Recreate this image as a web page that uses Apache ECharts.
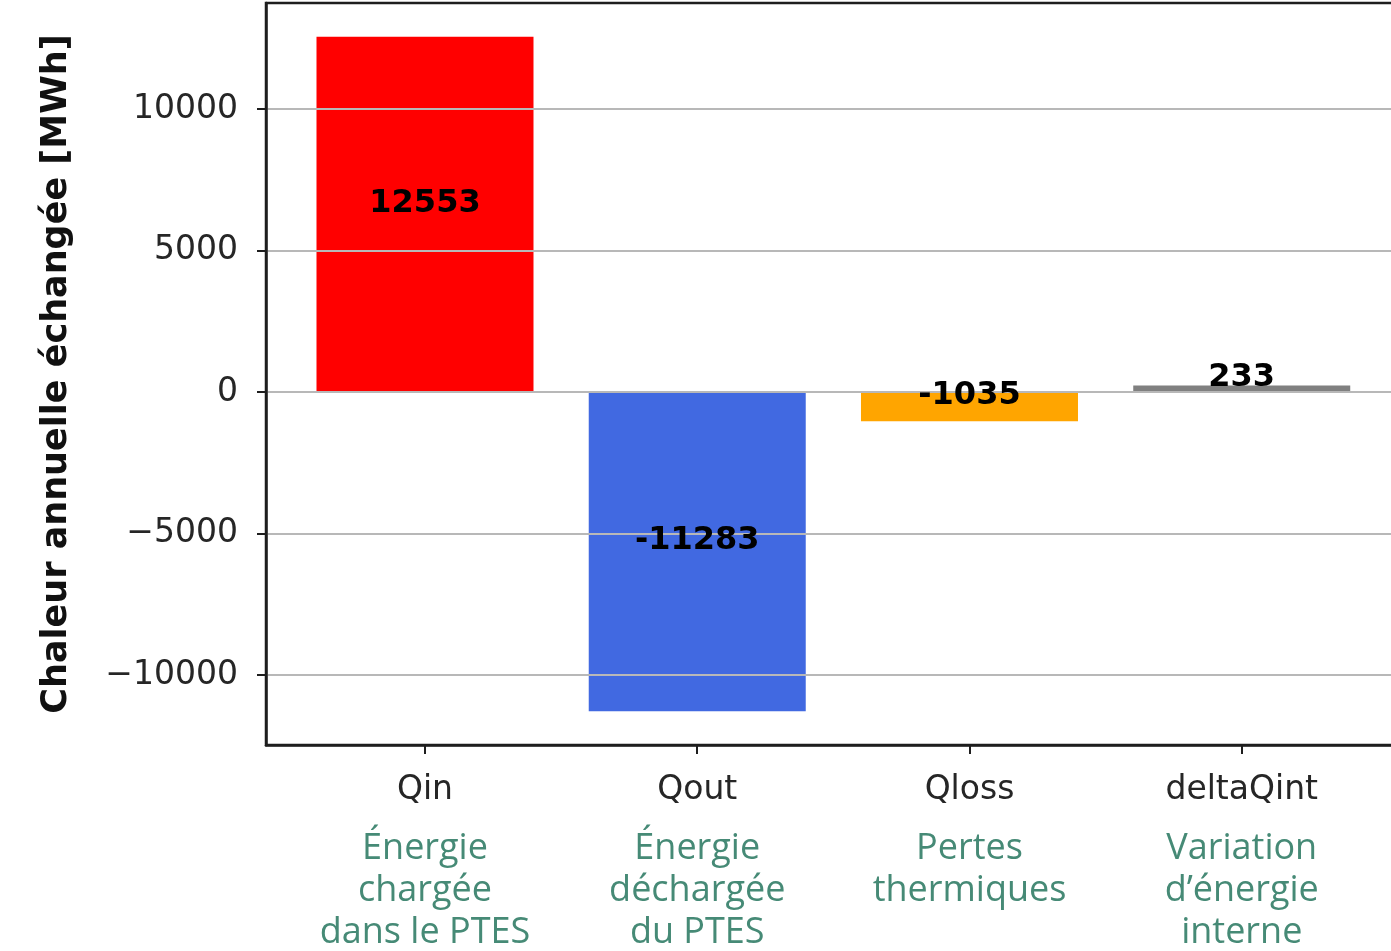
<!DOCTYPE html>
<html>
<head>
<meta charset="utf-8">
<script src="https://cdn.jsdelivr.net/npm/echarts@6/dist/echarts.min.js"></script>
<style>
  html, body { margin: 0; padding: 0; background: #fff; }
  #chart { width: 1391px; height: 951px; }
</style>
</head>
<body>
<div id="chart"></div>
<script>
// données
const categories = ['Qin', 'Qout', 'Qloss', 'deltaQint'];
const descriptions = [
  ['Énergie', 'chargée', 'dans le PTES'],
  ['Énergie', 'déchargée', 'du PTES'],
  ['Pertes', 'thermiques'],
  ['Variation', 'd’énergie', 'interne']
];
const values = [12553, -11283, -1035, 233];
const barColors = ['#ff0000', '#4169e1', '#ffa500', '#808080'];
const yTicks = [-10000, -5000, 0, 5000, 10000];

const positions = categories.map((c, i) => i);
const barData = values.map((v, i) => ({ value: [i, v], itemStyle: { color: barColors[i] } }));

const chart = echarts.init(document.getElementById('chart'));

chart.setOption({
  animation: false,
  backgroundColor: '#ffffff',
  grid: {
    left: 266,
    top: 3,
    width: 1138,
    height: 742,
    outerBoundsMode: 'none',
    show: true,
    borderColor: '#1e1e1e',
    borderWidth: 2.5
  },
  xAxis: {
    type: 'value',
    min: -0.584,
    max: 3.596,
    axisLine: { show: true, onZero: false, lineStyle: { color: '#1e1e1e', width: 2.5 } },
    axisTick: { show: true, customValues: positions, length: 9, lineStyle: { color: '#1e1e1e', width: 2 } },
    splitLine: { show: false },
    axisLabel: {
      customValues: positions,
      margin: 7,
      formatter: (v) => {
        const i = Math.round(v);
        return '{a|' + categories[i] + '}\n' + descriptions[i].map(s => '{b|' + s + '}').join('\n');
      },
      rich: {
        a: { fontFamily: 'DejaVu Sans', fontSize: 33, color: '#262626', lineHeight: 76, align: 'center' },
        b: { fontFamily: 'Open Sans', fontSize: 36, color: '#468a76', lineHeight: 42, align: 'center' }
      }
    }
  },
  yAxis: {
    type: 'value',
    min: -12475,
    max: 13745,
    z: 3,
    name: 'Chaleur annuelle échangée [MWh]',
    nameLocation: 'middle',
    nameRotate: 90,
    nameGap: 192,
    nameTextStyle: { fontFamily: 'DejaVu Sans', fontWeight: 'bold', fontSize: 35, color: '#111' },
    axisLine: { show: true, onZero: false, lineStyle: { color: '#1e1e1e', width: 2.5 } },
    axisTick: { show: true, customValues: yTicks, length: 9, lineStyle: { color: '#1e1e1e', width: 2 } },
    axisLabel: {
      customValues: yTicks,
      margin: 28,
      padding: [6, 0, 0, 0],
      fontFamily: 'DejaVu Sans',
      fontSize: 33,
      color: '#262626',
      formatter: (v) => String(v).replace('-', '\u2212')
    },
    splitLine: { show: true, lineStyle: { color: '#b8b8b8', width: 2 } }
  },
  series: [
    {
      name: 'barres',
      type: 'bar',
      barWidth: 217,
      z: 2,
      data: barData
    },
    {
      // série transparente pour garder les étiquettes au-dessus de la grille
      name: 'etiquettes',
      type: 'bar',
      barWidth: 217,
      barGap: '-100%',
      z: 5,
      itemStyle: { color: 'rgba(0,0,0,0)' },
      label: {
        show: true,
        position: 'inside',
        offset: [0, -11],
        fontFamily: 'DejaVu Sans',
        fontWeight: 'bold',
        fontSize: 32,
        color: '#000',
        formatter: (p) => String(p.value[1])
      },
      data: values.map((v, i) => [i, v])
    }
  ]
});
</script>
</body>
</html>
